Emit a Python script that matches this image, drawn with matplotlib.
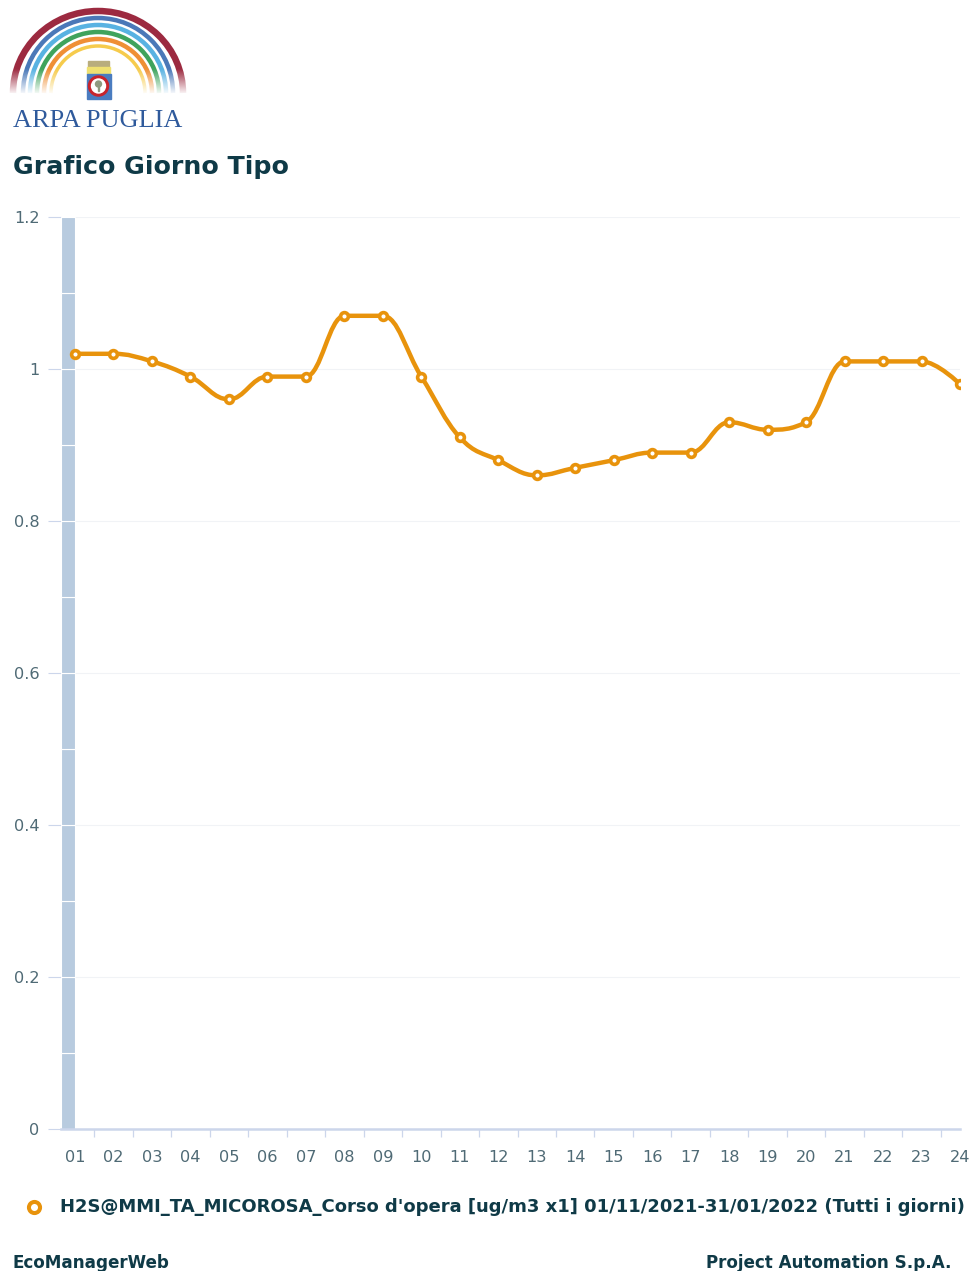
import numpy as np
import matplotlib
matplotlib.use('Agg')
import matplotlib.pyplot as plt
from matplotlib.patches import Arc, PathPatch, Rectangle, Circle
from matplotlib.path import Path

# data
hours = ['01','02','03','04','05','06','07','08','09','10','11','12',
         '13','14','15','16','17','18','19','20','21','22','23','24']
values = [1.02,1.02,1.01,0.99,0.96,0.99,0.99,1.07,1.07,0.99,0.91,0.88,
          0.86,0.87,0.88,0.89,0.89,0.93,0.92,0.93,1.01,1.01,1.01,0.98]
bar_pieces = [0.1]*12
y_ticks = [0,0.2,0.4,0.6,0.8,1,1.2]
y_labels = ['0','0.2','0.4','0.6','0.8','1','1.2']
legend_text = "H2S@MMI_TA_MICOROSA_Corso d'opera [ug/m3 x1] 01/11/2021-31/01/2022 (Tutti i giorni)"

W, H = 973, 1271
ORANGE = '#e8930c'
DARK = '#0f3a47'
TICK = '#ccd6eb'

def spline_path(xs, ys, smoothing=1.5):
    # bezier controls the way the web chart library does its spline
    n = len(xs)
    left = [(xs[i], ys[i]) for i in range(n)]
    right = [(xs[i], ys[i]) for i in range(n)]
    d = smoothing + 1
    for i in range(1, n-1):
        x, y = xs[i], ys[i]
        lx, ly = xs[i-1], ys[i-1]
        nx, ny = xs[i+1], ys[i+1]
        lcx, lcy = (smoothing*x+lx)/d, (smoothing*y+ly)/d
        rcx, rcy = (smoothing*x+nx)/d, (smoothing*y+ny)/d
        corr = (rcy-lcy)*(rcx-x)/(rcx-lcx) + y - rcy
        lcy += corr
        rcy += corr
        if lcy > ly and lcy > y:
            lcy = max(ly, y)
            rcy = 2*y - lcy
        elif lcy < ly and lcy < y:
            lcy = min(ly, y)
            rcy = 2*y - lcy
        if rcy > ny and rcy > y:
            rcy = max(ny, y)
            lcy = 2*y - rcy
        elif rcy < ny and rcy < y:
            rcy = min(ny, y)
            lcy = 2*y - rcy
        left[i] = (lcx, lcy)
        right[i] = (rcx, rcy)
    verts = [(xs[0], ys[0])]
    codes = [Path.MOVETO]
    for i in range(1, n):
        verts += [right[i-1], left[i], (xs[i], ys[i])]
        codes += [Path.CURVE4]*3
    return Path(verts, codes)

fig = plt.figure(figsize=(W/100, H/100), dpi=100, facecolor='white')

# main chart
ax = fig.add_axes([61/W, 1-1129/H, (960-61)/W, (1129-217)/H])
x = np.arange(len(hours))
ax.set_xlim(-14/38.45, 23)
ax.set_ylim(0, 1.2)
ax.set_yticks(y_ticks)
ax.set_yticklabels(y_labels)
ax.set_xticks(x)
ax.set_xticklabels(hours)
ax.set_xticks(x[:-1]+0.5, minor=True)
ax.grid(axis='y', color='#f1f3f6', lw=0.8, zorder=0)
ax.set_axisbelow(True)
for s in ['top','right','left']:
    ax.spines[s].set_visible(False)
ax.spines['bottom'].set_color(TICK)
ax.spines['bottom'].set_linewidth(1.8)
ax.tick_params(axis='y', length=9.4, width=0.8, color=TICK, labelcolor='#4f6a75',
               labelsize=11.6, pad=6)
ax.tick_params(axis='x', which='major', length=0, labelcolor='#4f6a75', labelsize=11.6, pad=15)
ax.tick_params(axis='x', which='minor', length=5.5, width=0.9, color=TICK)

bottom = 0
for h in bar_pieces:
    ax.bar(0, h, width=-14/38.45, align='edge', bottom=bottom, color='#b8cbdf',
           edgecolor='white', linewidth=0.8, zorder=2)
    bottom += h

ax.add_patch(PathPatch(spline_path(list(x), values), fill=False, edgecolor=ORANGE,
                       lw=3.2, capstyle='round', joinstyle='round', zorder=3))
ax.plot(x, values, ls='none', marker='o', ms=5.6, mfc='white', mec=ORANGE, mew=2.6, zorder=4)

# page overlay in pixel coordinates: logo, title, legend, footer
pg = fig.add_axes([0, 0, 1, 1], facecolor='none')
pg.axis('off')

arcs = [(85, 82, '#9c2a40', 6.5), (75, 75, '#4a78b8', 4.5), (68, 68, '#58b2e2', 4.5),
        (61, 61, '#3fa35c', 4.5), (54, 54, '#ef8f35', 4.5), (47, 47, '#f6cb4c', 3.5)]
for rx, ry, c, lw_px in arcs:
    pg.add_patch(Arc((98, 93), 2*rx, 2*ry, theta1=180, theta2=360, color=c, lw=lw_px*0.72))
# arcs fade out towards the bottom
fade = np.ones((60, 2, 4))
fade[:, :, 3] = np.clip(np.linspace(-0.1, 1.05, 60), 0, 1)[:, None]
pg.imshow(fade, extent=(0, 200, 96, 66), aspect='auto', zorder=3, interpolation='bilinear')
pg.set_xlim(0, W)
pg.set_ylim(H, 0)

# crest
pg.add_patch(Rectangle((88, 61), 21, 6, color='#b9ad7d', zorder=4))
pg.add_patch(Rectangle((87, 67), 23, 7, color='#efe070', zorder=4))
pg.add_patch(Rectangle((87, 74), 24, 25, color='#4a7cc0', zorder=4))
pg.add_patch(Circle((98.5, 86), 10, color='#c8242c', zorder=5))
pg.add_patch(Circle((98.5, 86), 7, color='white', zorder=6))
pg.add_patch(Circle((98.5, 84), 3, color='#8f9a80', zorder=7))
pg.add_patch(Rectangle((97.7, 85), 1.6, 6, color='#8f9a80', zorder=7))

pg.text(97.5, 121, 'ARPA PUGLIA', family='Liberation Serif', fontsize=18.9, color='#2f5a9c',
        ha='center', va='center', zorder=8)
pg.text(13, 167, 'Grafico Giorno Tipo', fontsize=18.2, fontweight='bold', color=DARK,
        ha='left', va='center', zorder=8)

pg.plot([34], [1207], ls='none', marker='o', ms=8, mfc='white', mec=ORANGE, mew=2.9)
pg.text(60, 1207, legend_text, fontsize=13, fontweight='bold', color=DARK, ha='left', va='center')
pg.text(13, 1263, 'EcoManagerWeb', fontsize=12.1, fontweight='bold', color=DARK, ha='left', va='center')
pg.text(952, 1263, 'Project Automation S.p.A.', fontsize=12.1, fontweight='bold', color=DARK,
        ha='right', va='center')

fig.savefig('out.png', dpi=100)
